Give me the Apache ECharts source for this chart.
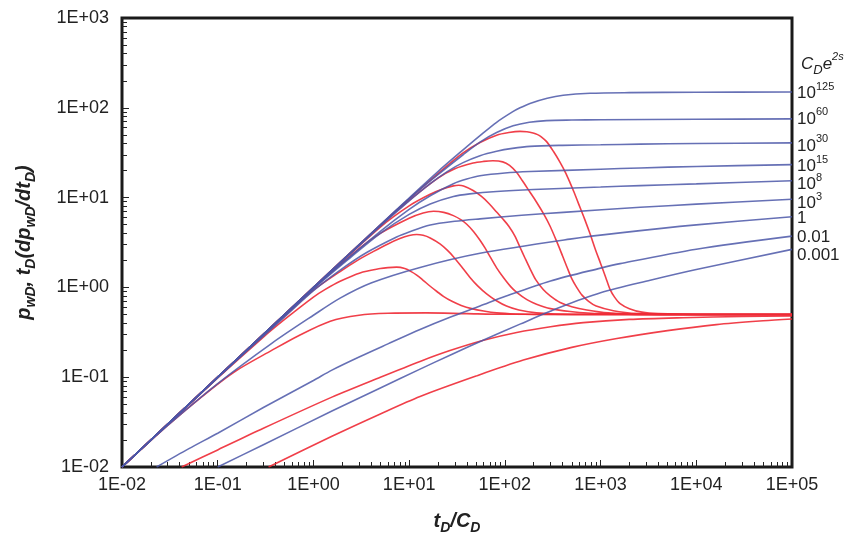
<!DOCTYPE html>
<html>
<head>
<meta charset="utf-8">
<script src="https://cdn.jsdelivr.net/npm/echarts@6/dist/echarts.min.js"></script>
<style>html,body{margin:0;padding:0;background:#fff}#c{width:851px;height:535px}</style>
</head>
<body>
<div id="c"></div>
<script>
// ---- tick values ----
const xMajorTicks = [0.01, 0.1, 1, 10, 100, 1000, 10000, 100000];
const yMajorTicks = [0.01, 0.1, 1, 10, 100, 1000];
const minorSteps = [2, 3, 4, 5, 6, 7, 8, 9];

// ---- curve labels (C_D e^2s) ----
const curveLabels = ['10^125', '10^60', '10^30', '10^15', '10^8', '10^3', '1', '0.01', '0.001'];

// ---- pressure curves p_wD  [tD/CD, value] ----
const p125 = [[0.01,0.01],[0.1,0.1],[1,1],[5,4.97],[10,9.9],[20,19.5],[36.6,34],[55,49],[82,69],[120,90],[144,100],[183,112],[277,128],[407,138],[776,145],[2000,147.5],[10000,149],[100000,150]];
const p60 = [[0.01,0.01],[0.1,0.1],[1,1],[5,4.95],[10,9.7],[20,18],[36.6,30],[55,41.5],[82,53],[122,63],[180,69],[273,72],[500,73],[1000,73.5],[10000,74.5],[100000,75.3]];
const p30 = [[0.01,0.01],[0.1,0.1],[1,0.99],[5,4.8],[10,9.2],[16.6,14.3],[25,19.5],[36.6,24.5],[55,29.3],[82,32.8],[120,35.3],[183,37.2],[400,38.2],[1000,38.7],[2600,39.4],[10000,40],[100000,40.7]];
const p15 = [[0.01,0.01],[0.1,0.1],[1,0.98],[5,4.2],[10,7.4],[16.6,10.5],[29,14.3],[40,16.1],[55,17.5],[100,18.8],[183,19.5],[1000,20.7],[2600,21.4],[10000,22.2],[100000,23.3]];
const p8 = [[0.01,0.01],[0.1,0.1],[1,0.96],[2.5,2.2],[5,4.0],[10,6.5],[16.6,8.5],[29,10.3],[43,11.0],[82,11.7],[200,12.3],[1000,13.1],[2600,13.6],[10000,14.2],[100000,15.4]];
const p3 = [[0.01,0.01],[0.1,0.099],[0.5,0.47],[1,0.92],[2,1.62],[3.6,2.45],[7.4,3.65],[10,4.15],[16.6,4.95],[30,5.45],[55,5.8],[150,6.35],[407,6.85],[2600,7.8],[10000,8.45],[100000,9.6]];
const p1 = [[0.01,0.01],[0.03,0.029],[0.1,0.085],[0.37,0.24],[1,0.49],[1.9,0.76],[4,1.12],[13,1.67],[55,2.4],[478,3.45],[1600,4.05],[10000,4.97],[100000,6.12]];
const p0_01 = [[0.023,0.01],[0.05,0.016],[0.1,0.0238],[0.3,0.046],[1,0.092],[1.56,0.12],[3,0.168],[6,0.235],[13,0.34],[26.7,0.465],[55,0.62],[100,0.79],[300,1.18],[1000,1.64],[1600,1.84],[10000,2.66],[100000,3.72]];
const p0_001 = [[0.1,0.01],[0.3,0.0177],[1.56,0.042],[5,0.076],[13,0.123],[26.7,0.176],[60,0.26],[144,0.39],[378,0.6],[1000,0.87],[3300,1.2],[10000,1.58],[100000,2.65]];

// ---- derivative curves tD(dp_wD/dtD) ----
const d125 = [[0.01,0.01],[0.1,0.1],[1,1],[5,4.95],[10,9.7],[20,18.5],[36,31],[55,41],[82,49.5],[110,53],[144,54.6],[170,54.2],[197,52.5],[220,50.3],[240,47.5],[273,42],[320,33],[375,25],[430,19],[478,14.8],[530,11.4],[580,8.9],[680,5.8],[780,3.9],[877,2.7],[1000,1.85],[1130,1.3],[1256,0.95],[1400,0.78],[1600,0.66],[2000,0.58],[2700,0.53],[4000,0.51],[10000,0.5],[100000,0.5]];
const d60 = [[0.01,0.01],[0.1,0.1],[1,1],[5,4.9],[10,9.3],[20,16.5],[30,21],[46.6,24.3],[60,25.3],[75,25.7],[95,25],[112,22.8],[133,19],[152,15.5],[180,11.8],[213,9.0],[256,6.5],[297,4.8],[348,3.25],[400,2.25],[444,1.7],[500,1.25],[563,1.0],[640,0.82],[750,0.7],[900,0.62],[1360,0.55],[2500,0.51],[5000,0.5],[100000,0.5]];
const d30 = [[0.01,0.01],[0.1,0.1],[1,0.99],[5,4.7],[10,8.1],[16.6,10.9],[22,12.4],[29,13.5],[33,13.7],[37,13.45],[46.6,12.0],[57,10.3],[69,8.5],[82,6.9],[95,5.8],[110,4.8],[127,3.75],[144,2.8],[163,2.1],[183,1.62],[210,1.22],[253,0.94],[300,0.8],[378,0.68],[500,0.61],[718,0.56],[1200,0.52],[3000,0.5],[100000,0.5]];
const d15 = [[0.01,0.01],[0.1,0.1],[1,0.98],[3,2.7],[5,4.0],[10,5.9],[14,6.75],[18,7.05],[23,6.85],[29,6.3],[35,5.65],[40,5.05],[47,4.2],[55,3.35],[62,2.75],[70,2.2],[82,1.65],[97,1.28],[115,1.02],[133,0.88],[170,0.73],[214,0.65],[300,0.58],[480,0.54],[1000,0.51],[10000,0.5],[100000,0.5]];
const d8 = [[0.01,0.01],[0.1,0.1],[0.5,0.48],[1,0.93],[1.9,1.5],[3,2.05],[4.2,2.5],[6,3.05],[8,3.5],[10,3.78],[12,3.88],[14,3.8],[16.6,3.55],[21,3.05],[25,2.6],[29,2.2],[35,1.72],[43,1.3],[52,1.04],[65,0.84],[80,0.72],[104,0.62],[140,0.56],[214,0.52],[500,0.5],[100000,0.5]];
const d3 = [[0.01,0.01],[0.1,0.098],[0.3,0.28],[0.5,0.44],[1,0.78],[1.33,0.95],[1.9,1.17],[3.07,1.45],[5,1.62],[6,1.66],[7.4,1.68],[9,1.62],[10.5,1.5],[12,1.37],[14,1.2],[16.6,1.03],[19.5,0.9],[23,0.79],[28,0.7],[35,0.63],[45,0.58],[60,0.545],[82,0.52],[130,0.505],[200,0.5],[100000,0.5]];
const d1 = [[0.01,0.01],[0.03,0.029],[0.07,0.062],[0.15,0.115],[0.37,0.2],[0.7,0.29],[1.5,0.42],[3,0.49],[6,0.515],[15,0.52],[40,0.51],[100,0.502],[100000,0.5]];
const d0_01 = [[0.042,0.01],[0.1,0.0155],[0.3,0.027],[1.56,0.06],[5,0.1],[13,0.15],[26.7,0.198],[60,0.258],[133,0.315],[300,0.365],[660,0.405],[2000,0.44],[7280,0.46],[30000,0.475],[100000,0.48]];
const d0_001 = [[0.34,0.01],[1.56,0.022],[5,0.039],[13,0.061],[50,0.103],[156,0.155],[500,0.215],[1480,0.27],[5000,0.33],[16200,0.385],[50000,0.425],[100000,0.445]];

const pressureCurves = [p125, p60, p30, p15, p8, p3, p1, p0_01, p0_001];
const derivativeCurves = [d125, d60, d30, d15, d8, d3, d1, d0_01, d0_001];

// ---- styling ----
const FONT = 'Liberation Sans, Arial, Helvetica, sans-serif';
const BLUE = '#4b57a8';
const RED = '#ee2a35';
const TXT = '#222';
const labelNudge = [1, 0, 3, 2, 4, 4, 2, 1, 6];

function minorOf(majors) {
  const out = [];
  for (let i = 0; i < majors.length - 1; i++) {
    minorSteps.forEach(s => out.push(+(majors[i] * s).toPrecision(6)));
  }
  return out;
}
function fmtE(v) {
  const e = Math.round(Math.log10(v));
  return '1E' + (e < 0 ? '-' : '+') + String(Math.abs(e)).padStart(2, '0');
}
function labelRich(lbl) {
  if (lbl.indexOf('^') >= 0) {
    const p = lbl.split('^');
    return '{n|' + p[0] + '}{s|' + p[1] + '}';
  }
  return '{n|' + lbl + '}';
}

const tickStyle = { color: TXT, width: 1 };

const series = [];
derivativeCurves.forEach((d, i) => {
  series.push({
    type: 'line', name: 'd' + i, data: d, xAxisIndex: 0, yAxisIndex: 0,
    symbol: 'none', smooth: 0.3, clip: true,
    lineStyle: { color: RED, width: 1.6, opacity: 0.9 },
    z: 2
  });
});
pressureCurves.forEach((d, i) => {
  series.push({
    type: 'line', name: 'p' + i, data: d, xAxisIndex: 0, yAxisIndex: 0,
    symbol: 'none', smooth: 0.3, clip: true,
    lineStyle: { color: BLUE, width: 1.6, opacity: 0.85 },
    endLabel: {
      show: true, distance: 5, color: TXT, offset: [0, labelNudge[i]],
      formatter: () => labelRich(curveLabels[i]),
      rich: {
        n: { fontFamily: FONT, fontSize: 17, color: TXT, lineHeight: 24, verticalAlign: 'middle' },
        s: { fontFamily: FONT, fontSize: 11, color: TXT, lineHeight: 12, verticalAlign: 'top' }
      }
    },
    z: 3
  });
});

const option = {
  animation: false,
  backgroundColor: '#fff',
  title: {
    text: '{i|C}{b|D}{i|e}{p|2s}',
    left: 796, top: 46,
    textStyle: {
      fontWeight: 'normal',
      rich: {
        i: { fontFamily: FONT, fontStyle: 'italic', fontWeight: 'normal', fontSize: 17, color: TXT, lineHeight: 26, verticalAlign: 'middle' },
        b: { fontFamily: FONT, fontStyle: 'italic', fontWeight: 'normal', fontSize: 13, color: TXT, lineHeight: 12, verticalAlign: 'bottom' },
        p: { fontFamily: FONT, fontStyle: 'italic', fontWeight: 'normal', fontSize: 11, color: TXT, lineHeight: 12, verticalAlign: 'top' }
      }
    }
  },
  grid: {
    left: 122, right: 59, top: 18, bottom: 68,
    containLabel: false, outerBoundsMode: 'none',
    show: true, borderColor: '#1a1a1a', borderWidth: 3, backgroundColor: 'transparent'
  },
  xAxis: [
    {
      type: 'log', logBase: 10, min: 0.01, max: 100000, position: 'bottom',
      axisLine: { show: false },
      axisTick: { show: true, inside: true, length: 7, lineStyle: tickStyle, customValues: xMajorTicks },
      axisLabel: { show: true, customValues: xMajorTicks, formatter: fmtE, fontFamily: FONT, fontSize: 18, color: TXT, margin: 9 },
      splitLine: { show: false },
      name: '{i|t}{s|D}{i|/C}{s|D}',
      nameLocation: 'middle', nameGap: 40,
      nameTextStyle: {
        rich: {
          i: { fontFamily: FONT, fontStyle: 'italic', fontWeight: 'bold', fontSize: 20, color: TXT, lineHeight: 28, verticalAlign: 'middle' },
          s: { fontFamily: FONT, fontStyle: 'italic', fontWeight: 'bold', fontSize: 14, color: TXT, lineHeight: 14, verticalAlign: 'bottom' }
        }
      }
    },
    {
      type: 'log', logBase: 10, min: 0.01, max: 100000, position: 'bottom',
      axisLine: { show: false },
      axisTick: { show: true, inside: true, length: 5, lineStyle: tickStyle, customValues: minorOf(xMajorTicks) },
      axisLabel: { show: false },
      splitLine: { show: false }
    }
  ],
  yAxis: [
    {
      type: 'log', logBase: 10, min: 0.01, max: 1000, position: 'left',
      axisLine: { show: false },
      axisTick: { show: true, inside: true, length: 7, lineStyle: tickStyle, customValues: yMajorTicks },
      axisLabel: { show: true, customValues: yMajorTicks, formatter: fmtE, fontFamily: FONT, fontSize: 18, color: TXT, margin: 13 },
      splitLine: { show: false },
      name: '{i|p}{s|wD}{i|, t}{s|D}{i|(dp}{s|wD}{i|/dt}{s|D}{i|)}',
      nameLocation: 'middle', nameGap: 84, nameRotate: 90,
      nameTextStyle: {
        rich: {
          i: { fontFamily: FONT, fontStyle: 'italic', fontWeight: 'bold', fontSize: 20, color: TXT, lineHeight: 28, verticalAlign: 'middle' },
          s: { fontFamily: FONT, fontStyle: 'italic', fontWeight: 'bold', fontSize: 14, color: TXT, lineHeight: 14, verticalAlign: 'bottom' }
        }
      }
    },
    {
      type: 'log', logBase: 10, min: 0.01, max: 1000, position: 'left',
      axisLine: { show: false },
      axisTick: { show: true, inside: true, length: 5, lineStyle: tickStyle, customValues: minorOf(yMajorTicks) },
      axisLabel: { show: false },
      splitLine: { show: false }
    }
  ],
  series: series
};

const chart = echarts.init(document.getElementById('c'), null, { renderer: 'canvas' });
chart.setOption(option);
</script>
</body>
</html>
